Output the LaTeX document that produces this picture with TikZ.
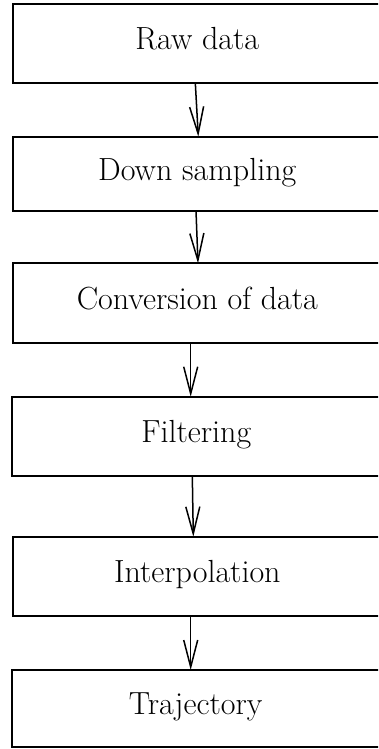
\documentclass[tikz,border=0pt]{standalone}
\usetikzlibrary{arrows.meta}
\begin{document}
\begin{tikzpicture}[x=1pt,y=1pt,
  stagebox/.style={draw, line width=1.8pt, rectangle, anchor=north west,
    inner sep=0pt, outer sep=0pt, minimum width=368pt,
    text height=22pt, text depth=8.8pt,
    font=\fontsize{32}{38}\selectfont},
  flow/.style={line width=1.5pt, -{Straight Barb[length=27pt,width=14pt,line width=1.5pt]}}]
  \useasboundingbox (0,0) rectangle (378,-749);
  \clip (0,0) rectangle (378,-749);

  % processing stages, top to bottom
  \node[stagebox, minimum height=78.7pt] (raw)    at (13.3,-4)     {Raw data};
  \node[stagebox, minimum height=74.3pt] (down)   at (13.3,-136.7) {Down sampling};
  \node[stagebox, minimum height=79.4pt] (conv)   at (13.3,-263.3) {Conversion of data};
  \node[stagebox, minimum height=79pt]   (filt)   at (12.3,-396.7) {Filtering};
  \node[stagebox, minimum height=79pt]   (interp) at (13.3,-536.7) {Interpolation};
  \node[stagebox, minimum height=76.7pt] (traj)   at (11.7,-670)   {Trajectory};

  % connectors between consecutive stages
  \draw[flow] ([xshift=182pt]raw.south west)    -- ([xshift=185pt]down.north west);
  \draw[flow] ([xshift=182.7pt]down.south west) -- ([xshift=184.7pt]conv.north west);
  \draw[flow] ([xshift=177.4pt]conv.south west) -- ([xshift=178.4pt]filt.north west);
  \draw[flow] ([xshift=180pt]filt.south west)   -- ([xshift=180pt]interp.north west);
  \draw[flow] ([xshift=177.4pt]interp.south west) -- ([xshift=179pt]traj.north west);
\end{tikzpicture}
\end{document}
